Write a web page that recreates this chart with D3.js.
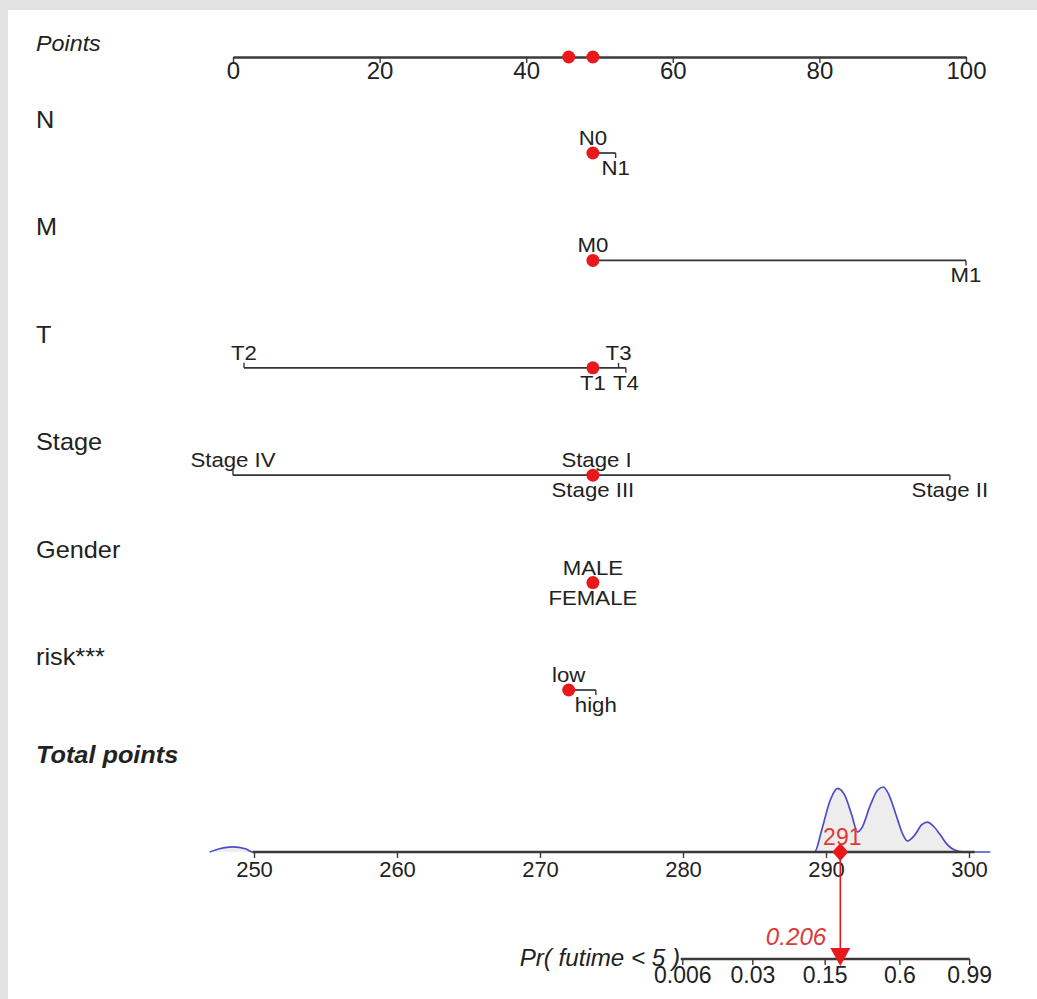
<!DOCTYPE html>
<html><head><meta charset="utf-8">
<script src="https://cdn.jsdelivr.net/npm/d3@7"></script>
<style>
html,body{margin:0;padding:0;background:#e3e3e3;}
svg{display:block;font-family:"Liberation Sans",Arial,sans-serif;}
</style></head><body>
<svg id="c" width="1037" height="999"></svg>
<script>
// ---- data ----
const pointTicks = [0, 20, 40, 60, 80, 100];
const varNames = ["N", "M", "T", "Stage", "Gender", "risk***"];
const nLevels = ["N0", "N1"];            const nPoints = [49.1, 52.2];
const mLevels = ["M0", "M1"];            const mPoints = [49.1, 100];
const tLevels = ["T2", "T1", "T3", "T4"]; const tPoints = [1.5, 49.1, 52.6, 53.6];
const stageLevels = ["Stage IV", "Stage III", "Stage I", "Stage II"]; const stagePoints = [0, 49.1, 49.6, 97.8];
const genderLevels = ["MALE", "FEMALE"]; const genderPoints = [49.1, 49.1];
const riskLevels = ["low", "high"];      const riskPoints = [45.8, 49.5];
const selected = ["N0", "M0", "T1", "Stage III", "MALE", "low"];
const totalTicks = [250, 260, 270, 280, 290, 300];
const probTicks = [0.006, 0.03, 0.15, 0.6, 0.99];
const probTickLabels = ["0.006", "0.03", "0.15", "0.6", "0.99"];
const patientTotal = 291;
const patientProb = 0.206;
const densTotal = [246.9, 247.6, 248.5, 249.4, 249.9, 260, 270, 280, 289.2, 289.7, 290.3, 290.8, 291.3, 291.8, 292.2, 292.5, 293.1, 293.6, 294.0, 294.4, 294.9, 295.4, 295.7, 296.2, 296.7, 297.1, 297.5, 298.0, 298.5, 299.0, 299.7, 301.5];
const densValue = [0, 0.05, 0.08, 0.05, 0, 0, 0, 0, 0, 0.34, 0.80, 0.98, 0.88, 0.57, 0.31, 0.37, 0.72, 0.95, 1.0, 0.88, 0.57, 0.26, 0.17, 0.26, 0.42, 0.46, 0.40, 0.26, 0.11, 0.03, 0, 0];

const vars = [
  {levels: nLevels, pts: nPoints}, {levels: mLevels, pts: mPoints},
  {levels: tLevels, pts: tPoints}, {levels: stageLevels, pts: stagePoints},
  {levels: genderLevels, pts: genderPoints}, {levels: riskLevels, pts: riskPoints}
];

// ---- layout ----
const svg = d3.select("#c");
svg.append("rect").attr("x", 8).attr("y", 10).attr("width", 1029).attr("height", 989).attr("fill", "#fff");
const ink = "#222", red = "#e8191c", redText = "#dc3a3a";
const labelX = 36;
const xP = d3.scaleLinear().domain([0, 100]).range([233, 966]);
const xT = d3.scaleLinear().domain([250, 300]).range([254, 969]);
const rowY = d3.scaleLinear().domain([0, 5]).range([153, 690]);
const pointsAxisY = 57, totalAxisY = 852, probAxisY = 959;

// text helper with slight horizontal stretch
function addText(x, y, str, size, opts = {}) {
  const t = svg.append("text")
    .attr("transform", `translate(${x},${y}) scale(${opts.sx || 1},1)`)
    .attr("font-size", size).attr("fill", opts.fill || ink)
    .attr("text-anchor", opts.anchor || "start").text(str);
  if (opts.italic) t.attr("font-style", "italic");
  if (opts.bold) t.attr("font-weight", "bold");
  return t;
}

// Points axis
addText(labelX, 51, "Points", 22, {italic: true, sx: 1.06});
const pa = svg.append("g").attr("transform", `translate(0,${pointsAxisY})`)
  .call(d3.axisBottom(xP).tickValues(pointTicks).tickSize(6).tickPadding(3).tickSizeOuter(0));
pa.select(".domain").attr("stroke", "#3a3a3a").attr("stroke-width", 2.4);
pa.selectAll(".tick line").attr("stroke", "#3a3a3a").attr("stroke-width", 1.4);
pa.selectAll(".tick text").attr("font-size", 24).attr("fill", ink).attr("dy", 0).attr("y", 22)
  .attr("font-family", "Liberation Sans, Arial, sans-serif");

// variable rows
vars.forEach((v, i) => {
  const y = rowY(i);
  addText(labelX, y - 25, varNames[i], 23, {sx: 1.1});
  const ext = d3.extent(v.pts);
  svg.append("line").attr("x1", xP(ext[0])).attr("x2", xP(ext[1])).attr("y1", y).attr("y2", y)
    .attr("stroke", "#333").attr("stroke-width", 1.7);
  v.levels.forEach((lv, j) => {
    const up = j % 2 === 0;
    const x = xP(v.pts[j]);
    svg.append("line").attr("x1", x).attr("x2", x).attr("y1", y).attr("y2", up ? y - 5 : y + 5)
      .attr("stroke", "#333").attr("stroke-width", 1.4);
    addText(x, up ? y - 8 : y + 22, lv, 19.5, {anchor: "middle", sx: 1.14});
  });
  v.levels.forEach((lv, j) => {
    if (selected.includes(lv)) {
      svg.append("circle").attr("cx", xP(v.pts[j])).attr("cy", y).attr("r", 6.5).attr("fill", red);
    }
  });
});

// dots on points axis
const selPts = [];
vars.forEach(v => v.levels.forEach((lv, j) => { if (selected.includes(lv)) selPts.push(v.pts[j]); }));
Array.from(new Set(selPts)).forEach(p => {
  svg.append("circle").attr("cx", xP(p)).attr("cy", pointsAxisY).attr("r", 6.5).attr("fill", red);
});

// Total points
addText(labelX, 763, "Total points", 23, {italic: true, bold: true, sx: 1.1});
const yD = d3.scaleLinear().domain([0, 1]).range([totalAxisY, 787]);
const dens = densTotal.map((t, i) => [t, densValue[i]]);
svg.append("path").datum(dens)
  .attr("d", d3.area().x(d => xT(d[0])).y0(totalAxisY).y1(d => yD(d[1])).curve(d3.curveMonotoneX))
  .attr("fill", "#ededed");
svg.append("path").datum(dens)
  .attr("d", d3.line().x(d => xT(d[0])).y(d => yD(d[1])).curve(d3.curveMonotoneX))
  .attr("fill", "none").attr("stroke", "#4b4bcc").attr("stroke-width", 1.7);
const ta = svg.append("g").attr("transform", `translate(0,${totalAxisY})`)
  .call(d3.axisBottom(xT).tickValues(totalTicks).tickSize(6).tickPadding(3).tickSizeOuter(0));
ta.select(".domain").remove();
ta.append("line").attr("x1", xT(249.9)).attr("x2", xT(300.4)).attr("stroke", "#3a3a3a").attr("stroke-width", 2.4);
ta.selectAll(".tick line").attr("stroke", "#3a3a3a").attr("stroke-width", 1.4);
ta.selectAll(".tick text").attr("font-size", 22).attr("fill", ink).attr("dy", 0).attr("y", 25)
  .attr("font-family", "Liberation Sans, Arial, sans-serif");

// probability axis (complementary log-log scale aligned with total points)
const cll = p => Math.log(-Math.log(1 - p));
const cllPerPoint = 0.331;
const probToTotal = p => patientTotal + (cll(p) - cll(patientProb)) / cllPerPoint;
const xPr = d3.scaleLinear().domain([cll(probTicks[0]), cll(probTicks[probTicks.length - 1])])
  .range([xT(probToTotal(probTicks[0])), xT(probToTotal(probTicks[probTicks.length - 1]))]);
const xProb = p => xPr(cll(p));
svg.append("line").attr("x1", xProb(probTicks[0]) - 2).attr("x2", xProb(probTicks[probTicks.length - 1]))
  .attr("y1", probAxisY).attr("y2", probAxisY).attr("stroke", "#3a3a3a").attr("stroke-width", 2.4);
probTicks.forEach((p, i) => {
  const x = xProb(p);
  svg.append("line").attr("x1", x).attr("x2", x).attr("y1", probAxisY).attr("y2", probAxisY + 6).attr("stroke", "#3a3a3a").attr("stroke-width", 1.4);
  addText(x, probAxisY + 24, probTickLabels[i], 23, {anchor: "middle"});
});
addText(680, 966, "Pr( futime < 5 )", 23, {anchor: "end", italic: true, sx: 1.05});

// patient marker
const px = xT(patientTotal);
svg.append("line").attr("x1", px).attr("x2", px).attr("y1", totalAxisY).attr("y2", 950).attr("stroke", red).attr("stroke-width", 1.6);
svg.append("path").attr("d", `M${px - 10},948 L${px + 10},948 L${px},966 Z`).attr("fill", red);
svg.append("path").attr("d", `M${px},${totalAxisY - 9} L${px + 8},${totalAxisY} L${px},${totalAxisY + 9} L${px - 8},${totalAxisY} Z`).attr("fill", red);
addText(px + 2, totalAxisY - 7, patientTotal, 23, {anchor: "middle", fill: redText});
addText(px - 14, 945, patientProb.toFixed(3), 23, {anchor: "end", italic: true, fill: redText, sx: 1.05});
</script>
</body></html>
